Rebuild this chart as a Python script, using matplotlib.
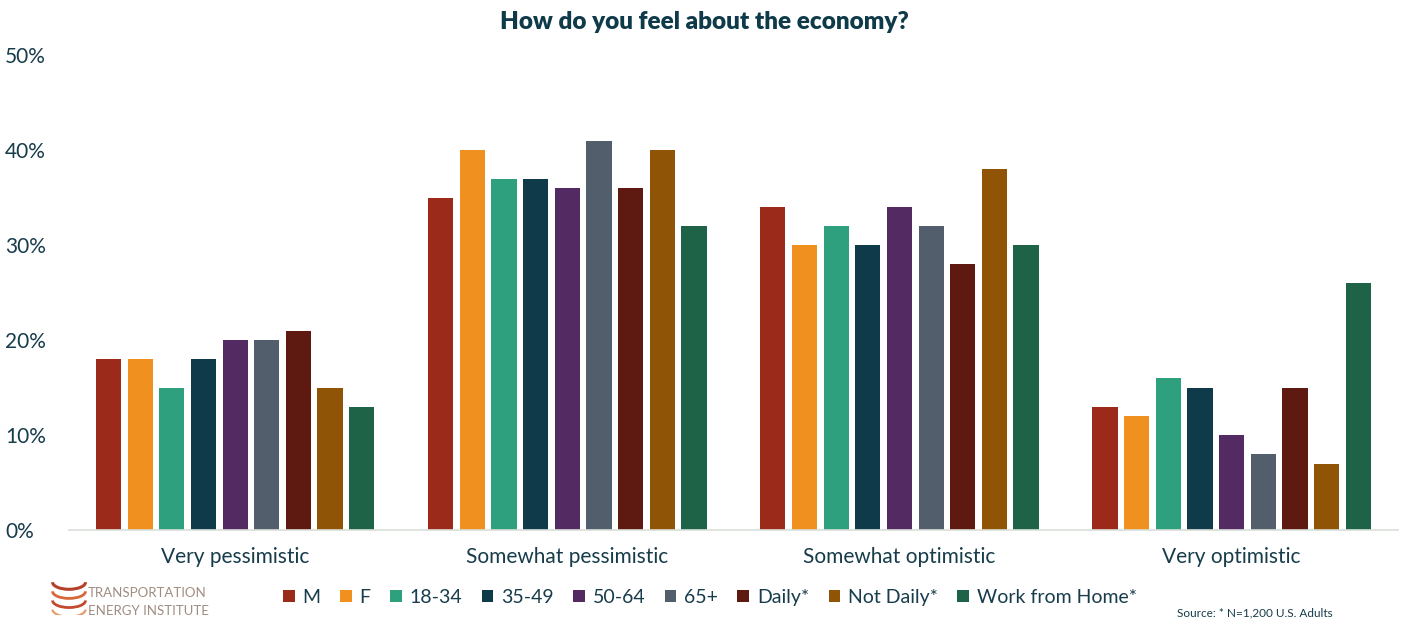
import numpy as np
import matplotlib
matplotlib.use("Agg")
import matplotlib.pyplot as plt
from matplotlib.patches import Patch, Arc

plt.rcParams["font.family"] = ["Lato", "DejaVu Sans"]

categories = ["Very pessimistic", "Somewhat pessimistic", "Somewhat optimistic", "Very optimistic"]
groups = ["M", "F", "18-34", "35-49", "50-64", "65+", "Daily*", "Not Daily*", "Work from Home*"]
colors = ["#9c2a1a", "#f0901e", "#2fa07e", "#0f3a4a", "#532a62",
          "#525e6b", "#5e1a10", "#8f5406", "#1e6248"]

# percent per group, one list per category
very_pess = [18, 18, 15, 18, 20, 20, 21, 15, 13]
some_pess = [35, 40, 37, 37, 36, 41, 36, 40, 32]
some_opt = [34, 30, 32, 30, 34, 32, 28, 38, 30]
very_opt = [13, 12, 16, 15, 10, 8, 15, 7, 26]

values = np.array([very_pess, some_pess, some_opt, very_opt]) / 100.0
yticks = [0, 0.1, 0.2, 0.3, 0.4, 0.5]
ytick_labels = ["0%", "10%", "20%", "30%", "40%", "50%"]

TXT = "#173c4b"

fig = plt.figure(figsize=(14.09, 6.24), dpi=100)
ax = fig.add_axes([0.049, 0.1506, 0.943, 0.7612])

x = np.arange(len(categories))
pitch = 0.0953
width = 0.076
for i, (g, c) in enumerate(zip(groups, colors)):
    off = (i - 4) * pitch
    ax.bar(x + off, values[:, i], width, color=c, label=g, zorder=2)

ax.set_xlim(-0.5, 3.5)
ax.set_ylim(0, 0.5)
ax.set_yticks(yticks)
ax.set_yticklabels(ytick_labels, fontsize=15, color=TXT, ha="left")
ax.set_xticks(x)
ax.set_xticklabels(categories, fontsize=15, color=TXT)
ax.tick_params(axis="both", length=0)
ax.tick_params(axis="y", pad=46)
ax.tick_params(axis="x", pad=12)
for s in ["top", "right", "left"]:
    ax.spines[s].set_visible(False)
ax.spines["bottom"].set_color("#d9dfd9")
ax.spines["bottom"].set_linewidth(1.2)

fig.text(0.5, 0.965, "How do you feel about the economy?", ha="center", va="center",
         fontsize=17.5, fontweight="heavy", color="#0f3a4a")

handles = [Patch(facecolor=c, label=g) for g, c in zip(groups, colors)]
fig.legend(handles=handles, loc="center", bbox_to_anchor=(0.504, 0.043), ncol=9,
           frameon=False, fontsize=14, handlelength=0.6, handleheight=0.6,
           handletextpad=0.4, columnspacing=1.0, labelcolor=TXT)

# logo
lax = fig.add_axes([0.036, 0.015, 0.026, 0.065])
lax.set_xlim(-1, 1)
lax.set_ylim(-1, 1)
lax.axis("off")
for k, (c, lw) in enumerate([("#b5402a", 2.2), ("#d8673a", 2.0), ("#c24a2f", 2.0), ("#e79a6a", 1.6)]):
    lax.add_patch(Arc((0, 0.6 - k * 0.45), 1.8, 0.7, theta1=180, theta2=360, color=c, lw=lw))
fig.text(0.0625, 0.049, "TRANSPORTATION", fontsize=9.5, color="#a08c80", va="center")
fig.text(0.0625, 0.021, "ENERGY INSTITUTE", fontsize=9.5, color="#a08c80", va="center")

fig.text(0.835, 0.018, "Source: * N=1,200 U.S. Adults", fontsize=8.5, color=TXT, va="center")

fig.savefig("out.png", dpi=100)
